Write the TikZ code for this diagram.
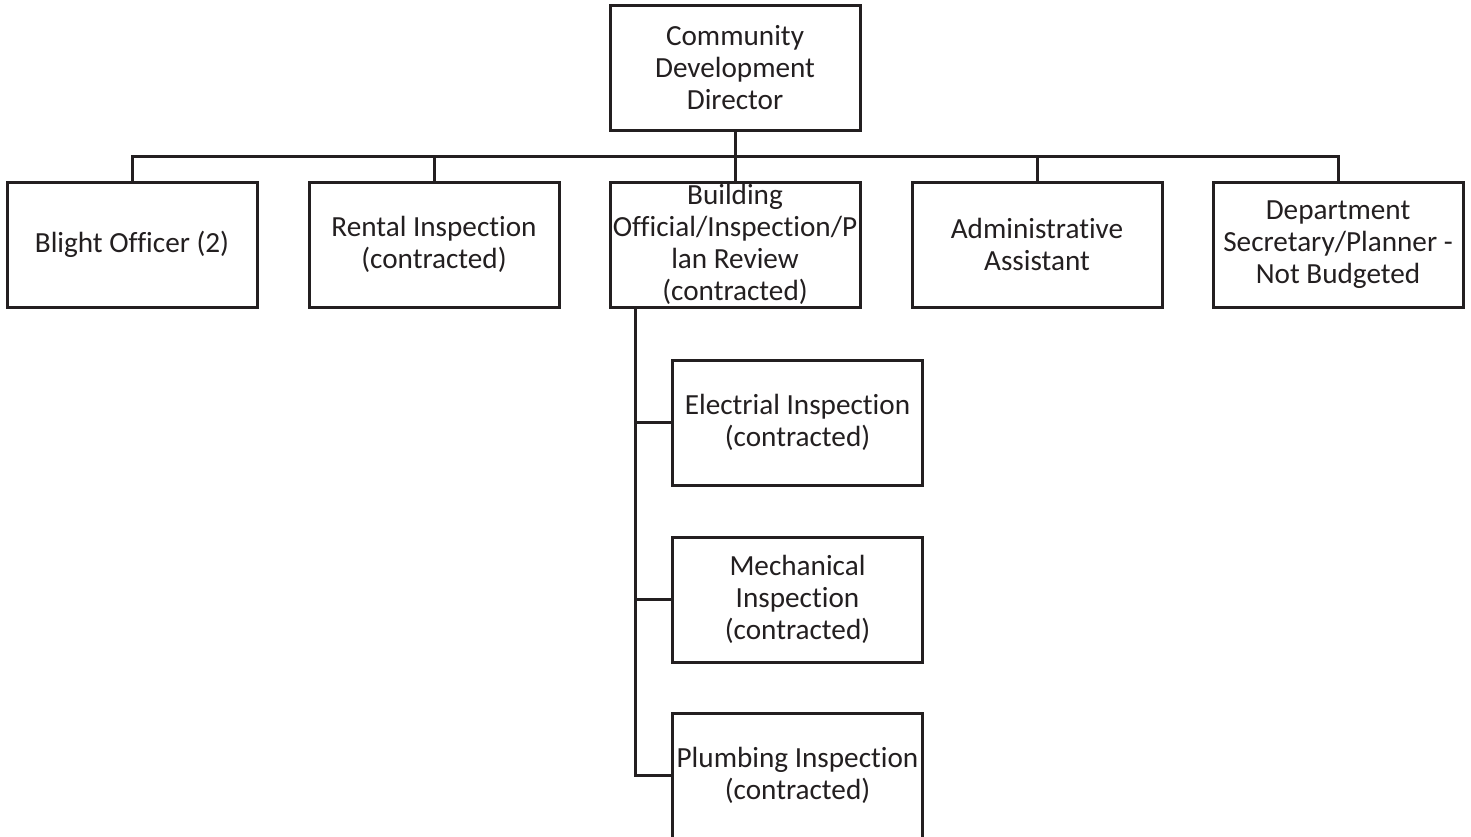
\documentclass[tikz,border=0pt]{standalone}
\usepackage{fontspec}
\setmainfont{Carlito}[Ligatures=NoCommon]
\definecolor{ink}{HTML}{231F20}
\begin{document}
\begin{tikzpicture}[x=0.5pt,y=-0.5pt,
  unit/.style={draw=ink, line width=1.5pt, fill=white, text=ink,
    minimum width=125pt, minimum height=62.5pt, inner sep=0pt,
    align=center, font=\fontsize{14.6pt}{16pt}\selectfont},
  link/.style={draw=ink, line width=1.5pt}]
\useasboundingbox (0,0) rectangle (1471,836);
\clip (0,0) rectangle (1471,836);

% director
\node[unit] (top) at (735,67.5) {Community\\Development\\Director};

% direct reports
\node[unit] (blight)   at (132,244.5)  {Blight Officer (2)};
\node[unit] (rental)   at (434,244.5)  {Rental Inspection\\(contracted)};
\node[unit] (building) at (735,244.5)  {Building\\Official/Inspection/P\\lan Review\\(contracted)};
\node[unit] (admin)    at (1037,244.5) {Administrative\\Assistant};
\node[unit] (dept)     at (1338,244.5) {Department\\Secretary/Planner -\\Not Budgeted};

% contracted inspections under the building official
\node[unit] (elec)  at (797.5,422.5) {Electrial Inspection\\(contracted)};
\node[unit] (mech)  at (797.5,599.5) {Mechanical\\Inspection\\(contracted)};
\node[unit] (plumb) at (797.5,775.5) {Plumbing Inspection\\(contracted)};

% bus from the director
\coordinate (bus) at (735,156);
\draw[link] (top.south) -- (bus);
\foreach \n in {blight,rental,building,admin,dept}
  \draw[link] (bus) -| (\n.north);

% spine to the inspections
\coordinate (spine) at ([xshift=-50pt]building.south);
\foreach \n in {elec,mech,plumb}
  \draw[link] (spine) |- (\n.west);
\end{tikzpicture}
\end{document}
